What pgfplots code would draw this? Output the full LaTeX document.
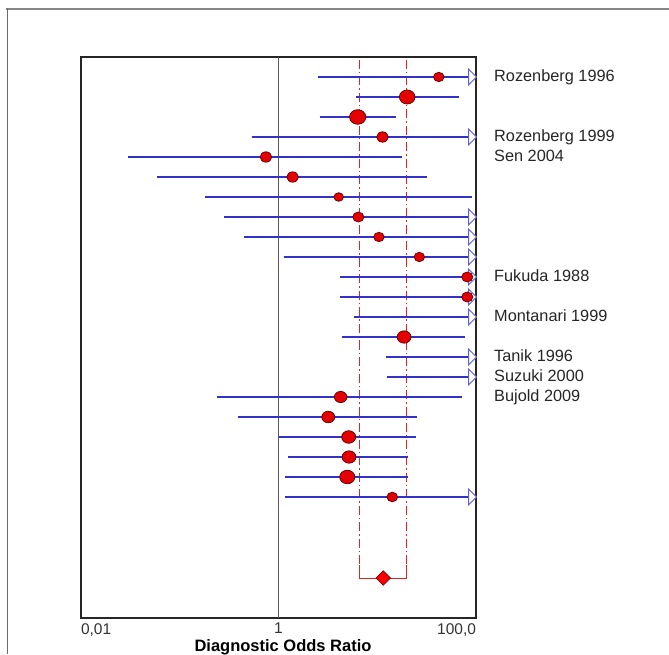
\documentclass[border=0pt]{standalone}
\usepackage{fontspec}
\setmainfont{Liberation Sans}
\usepackage{pgfplots}
\usepackage{pgfplotstable}
\pgfplotsset{compat=1.18}

\definecolor{cibl}{RGB}{50,50,200}
\definecolor{arrbl}{RGB}{95,95,215}
\definecolor{ptred}{RGB}{228,0,0}
\definecolor{ptedge}{RGB}{90,0,0}
\definecolor{poolred}{RGB}{225,35,35}
\definecolor{framegray}{RGB}{135,135,135}

% open arrow head, tip at the data point
\pgfdeclareplotmark{openarrow}{%
  \pgfpathmoveto{\pgfqpoint{0.5pt}{0pt}}%
  \pgfpathlineto{\pgfqpoint{-7.5pt}{8pt}}%
  \pgfpathlineto{\pgfqpoint{-7.5pt}{-8pt}}%
  \pgfpathclose
  \pgfusepathqfillstroke}

% confidence intervals (row = study, from the top); nan breaks the line
\pgfplotstableread{
x y
2.53 0
100 0
nan nan
6.1 1
67.7 1
nan nan
2.61 2
15.5 2
nan nan
0.535 3
100 3
nan nan
0.0301 4
17.9 4
nan nan
0.0589 5
31.7 5
nan nan
0.181 6
90.4 6
nan nan
0.282 7
100 7
nan nan
0.451 8
100 8
nan nan
1.13 9
100 9
nan nan
4.2 10
100 10
nan nan
4.2 11
100 11
nan nan
5.82 12
100 12
nan nan
4.4 13
76.9 13
nan nan
12.2 14
100 14
nan nan
12.5 15
100 15
nan nan
0.238 16
71.6 16
nan nan
0.392 17
25.3 17
nan nan
1.0 18
24.7 18
nan nan
1.26 19
20.6 19
nan nan
1.17 20
20.6 20
nan nan
1.17 21
100 21
}\cilines

% point estimates, r = marker radius
\pgfplotstableread{
row est r
0 42.0 4.7
1 20.1 7.0
2 6.34 7.3
3 11.3 5.2
4 0.746 5.2
5 1.39 5.2
6 4.07 4.3
7 6.43 5.0
8 10.4 4.7
9 26.7 4.7
10 81.6 5.0
11 81.6 5.0
13 18.7 6.2
16 4.26 5.6
17 3.19 5.8
18 5.14 6.3
19 5.18 6.2
20 4.97 6.8
21 14.2 4.8
}\points

% upper limits beyond the axis
\pgfplotstableread{
row x
0 100
3 100
7 100
8 100
9 100
10 100
11 100
12 100
14 100
15 100
21 100
}\arrows

\begin{document}
\begin{tikzpicture}
\useasboundingbox (0,0) rectangle (669pt,655pt);
\clip (0,0) rectangle (669pt,655pt);
\fill[white] (0,0) rectangle (669pt,655pt);
\draw[framegray, line width=2.2pt] (6pt,646pt) -- (669pt,646pt);
\draw[framegray!80!black, line width=1pt] (7pt,647pt) -- (7pt,1pt);

\begin{axis}[
    at={(278.5pt,317.5pt)},
    anchor=center,
    scale only axis,
    width=395pt,
    height=561pt,
    xmode=log,
    xmin=0.01, xmax=100,
    ymin=-1, ymax=27.05,
    y dir=reverse,
    ytick=\empty,
    xtick={0.01,1,100},
    xticklabels={{\makebox[0pt][l]{0,01}},1,{\makebox[0pt][r]{100,0}}},
    xticklabel style={font=\fontsize{15.5}{18}\selectfont, text=black!80, inner sep=0pt, anchor=north, yshift=-5pt},
    major tick length=0pt,
    minor tick num=0,
    axis line style={black!85, line width=1.2pt},
    clip=false,
]
\addplot[black!65, line width=1.5pt] coordinates {(1,-1) (1,27.05)};

% pooled estimate and its interval
\addplot[poolred, line width=1pt, dash pattern=on 9pt off 3pt on 1.5pt off 3pt] coordinates {(6.58,-0.85) (6.58,25.05)};
\addplot[poolred, line width=1pt, dash pattern=on 9pt off 3pt on 1.5pt off 3pt] coordinates {(19.9,-0.85) (19.9,25.05)};
\addplot[poolred, line width=1pt] coordinates {(6.58,24.4) (6.58,25.05) (19.9,25.05) (19.9,24.4)};
\addplot[only marks, mark=diamond*, mark size=7.3pt,
    mark options={xscale=1.33, fill=red, draw=ptedge, line width=0.6pt}]
    coordinates {(11.5,25.05)};

\addplot[cibl, line width=1.1pt, unbounded coords=jump] table[x=x, y=y] {\cilines};

\addplot[only marks, mark=openarrow, mark options={draw=arrbl, fill=white, line width=1pt}]
    table[x=x, y=row] {\arrows};

\addplot[scatter, only marks, mark=*,
    scatter/use mapped color={draw=ptedge, fill=ptred},
    visualization depends on={\thisrow{r} \as \rr},
    scatter/@pre marker code/.append style={/tikz/mark size=\rr pt, /tikz/xscale=1.12},
    mark options={line width=0.7pt}]
    table[x=est, y=row] {\points};
\addplot[cibl, line width=1.1pt, unbounded coords=jump, opacity=0.6] table[x=x, y=y] {\cilines};

\begin{scope}[every node/.style={anchor=base west, inner sep=0pt, xshift=18pt, yshift=-4.7pt,
    font=\fontsize{16.3}{19}\selectfont, text=black!85}]
\node at (axis cs:100,0) {Rozenberg 1996};
\node at (axis cs:100,3) {Rozenberg 1999};
\node at (axis cs:100,4) {Sen 2004};
\node at (axis cs:100,10) {Fukuda 1988};
\node at (axis cs:100,12) {Montanari 1999};
\node at (axis cs:100,14) {Tanik 1996};
\node at (axis cs:100,15) {Suzuki 2000};
\node at (axis cs:100,16) {Bujold 2009};
\end{scope}
\end{axis}

\node[anchor=base, inner sep=0pt, font=\bfseries\fontsize{16.5}{20}\selectfont]
    at (283pt,3.8pt) {Diagnostic Odds Ratio};
\end{tikzpicture}
\end{document}
